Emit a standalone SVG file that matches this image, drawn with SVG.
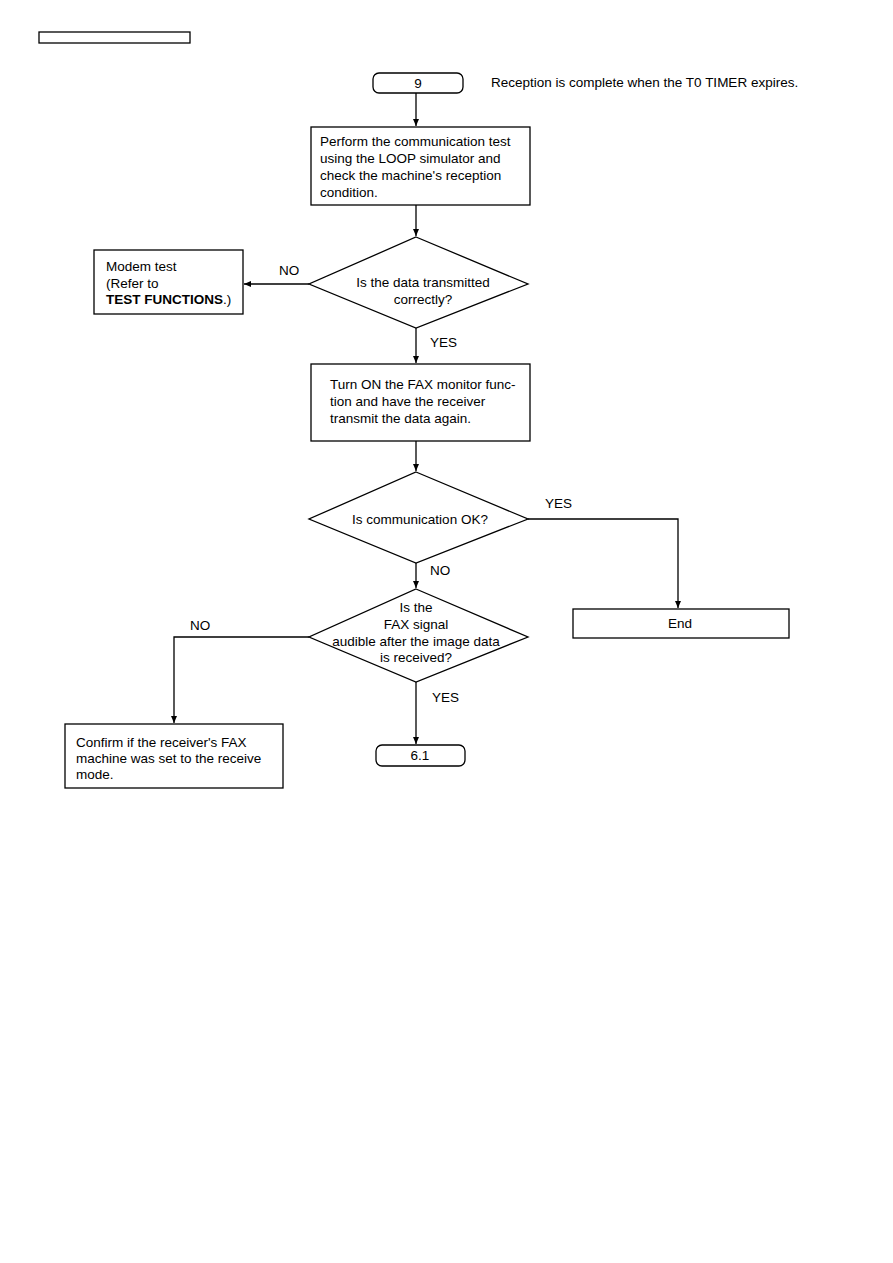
<svg xmlns="http://www.w3.org/2000/svg" width="893" height="1263" viewBox="0 0 893 1263">
<style>
.s{fill:#fff;stroke:#000;stroke-width:1.3}
.c{fill:none;stroke:#000;stroke-width:1.3}
text{font-family:"Liberation Sans",Arial,sans-serif;font-size:13.5px;fill:#000}
.m{text-anchor:middle}
.b{font-weight:bold}
</style>
<defs>
<marker id="a" markerWidth="8" markerHeight="8" refX="7" refY="4" orient="auto" markerUnits="userSpaceOnUse">
<path d="M0,1 L7,4 L0,7 Z" fill="#000"/>
</marker>
</defs>
<rect width="893" height="1263" fill="#fff"/>
<rect x="39" y="32" width="151" height="11" fill="none" stroke="#000" stroke-width="1.3"/>
<g id="connectors">
<path class="c" d="M416,93 V126" marker-end="url(#a)"/>
<path class="c" d="M416,205 V236" marker-end="url(#a)"/>
<path class="c" d="M309,284 H244" marker-end="url(#a)"/>
<path class="c" d="M416,328 V363" marker-end="url(#a)"/>
<path class="c" d="M416,441 V471" marker-end="url(#a)"/>
<path class="c" d="M528,519 H678 V608" marker-end="url(#a)"/>
<path class="c" d="M416,563 V588" marker-end="url(#a)"/>
<path class="c" d="M309,637 H174 V723" marker-end="url(#a)"/>
<path class="c" d="M416,682 V744" marker-end="url(#a)"/>
<text x="279" y="275">NO</text>
<text x="430" y="347">YES</text>
<text x="545" y="508">YES</text>
<text x="430" y="575">NO</text>
<text x="190" y="630">NO</text>
<text x="432" y="702">YES</text>
</g>
<g id="start">
<rect class="s" x="373" y="73" width="90" height="20" rx="6"/>
<text class="m" x="418" y="88">9</text>
</g>
<g id="note">
<text x="491" y="87">Reception is complete when the T0 TIMER expires.</text>
</g>
<g id="perform">
<rect class="s" x="311" y="127" width="219" height="78"/>
<text x="320" y="146">Perform the communication test</text>
<text x="320" y="163">using the LOOP simulator and</text>
<text x="320" y="180">check the machine's reception</text>
<text x="320" y="197">condition.</text>
</g>
<g id="d1">
<polygon class="s" points="416,237 528,284 416,328 309,284"/>
<text class="m" x="423" y="287">Is the data transmitted</text>
<text class="m" x="423" y="304">correctly?</text>
</g>
<g id="modem">
<rect class="s" x="94" y="250" width="149" height="64"/>
<text x="106" y="271">Modem test</text>
<text x="106" y="288">(Refer to</text>
<text x="106" y="304"><tspan class="b">TEST FUNCTIONS</tspan>.)</text>
</g>
<g id="turnon">
<rect class="s" x="311" y="364" width="219" height="77"/>
<text x="330" y="389">Turn ON the FAX monitor func-</text>
<text x="330" y="406">tion and have the receiver</text>
<text x="330" y="423">transmit the data again.</text>
</g>
<g id="d2">
<polygon class="s" points="416,472 528,519 416,563 309,519"/>
<text class="m" x="420" y="524">Is communication OK?</text>
</g>
<g id="end">
<rect class="s" x="573" y="609" width="216" height="29"/>
<text class="m" x="680" y="628">End</text>
</g>
<g id="d3">
<polygon class="s" points="416,589 528,637 416,682 309,637"/>
<text class="m" x="416" y="612">Is the</text>
<text class="m" x="416" y="629">FAX signal</text>
<text class="m" x="416" y="646">audible after the image data</text>
<text class="m" x="416" y="662">is received?</text>
</g>
<g id="confirm">
<rect class="s" x="65" y="724" width="218" height="64"/>
<text x="76" y="747">Confirm if the receiver's FAX</text>
<text x="76" y="763">machine was set to the receive</text>
<text x="76" y="779">mode.</text>
</g>
<g id="goto61">
<rect class="s" x="376" y="745" width="89" height="21" rx="6"/>
<text class="m" x="420" y="760">6.1</text>
</g>
</svg>
